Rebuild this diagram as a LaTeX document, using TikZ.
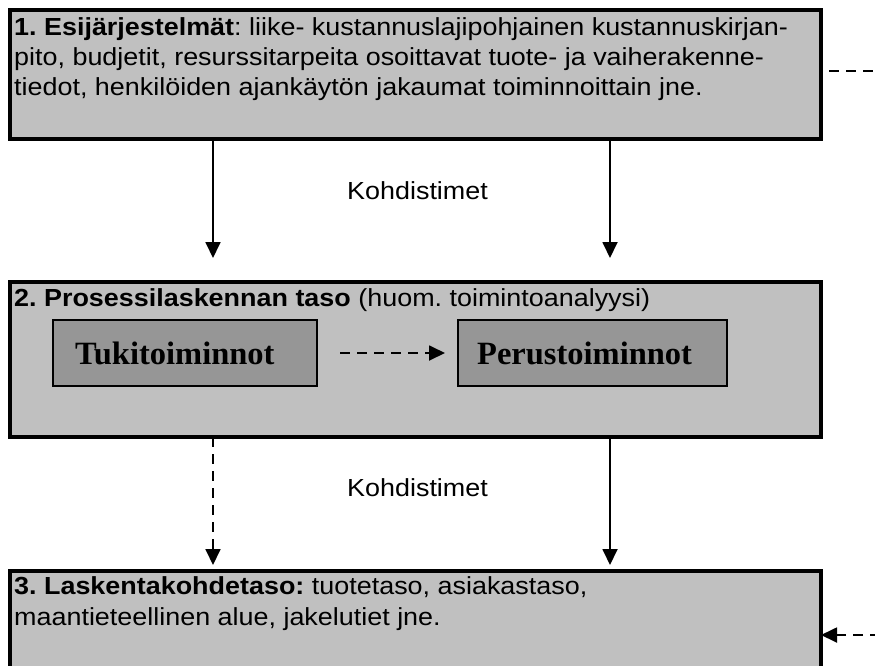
\documentclass[tikz,border=0pt]{standalone}
\usepackage{fontspec}
\setmainfont{Liberation Sans}[FakeStretch=1.09]
\newfontfamily\timesbf{Liberation Serif}
\usetikzlibrary{arrows.meta}
\definecolor{boxgray}{RGB}{192,192,192}
\definecolor{innergray}{RGB}{150,150,150}
\frenchspacing
\begin{document}
\begin{tikzpicture}[x=1pt,y=-1pt,
  bigbox/.style={draw=black,line width=3.5pt,fill=boxgray,minimum width=811pt,inner sep=0pt,outer sep=0pt},
  smallbox/.style={draw=black,line width=1.3pt,fill=innergray,minimum height=66pt,inner sep=0pt,outer sep=0pt},
  txt/.style={anchor=base west,inner sep=0pt,font=\fontsize{24.7}{30}\selectfont},
  arr/.style={line width=1.8pt,-{Triangle[length=16pt,width=15pt]}},
  darr/.style={arr,dash pattern=on 10pt off 7pt},
  dline/.style={line width=1.8pt,dash pattern=on 10pt off 7pt}]
\useasboundingbox (0,0) rectangle (875,665);
\clip (0,0) rectangle (875,665);
% boxes
\node[bigbox,minimum height=129pt] (b1) at (415.5,74.5) {};
\node[bigbox,minimum height=155pt] (b2) at (415.5,359.5) {};
\node[bigbox,minimum height=110pt] (b3) at (415.5,626) {};
\node[smallbox,minimum width=264pt] (tuki) at (185,353) {};
\node[smallbox,minimum width=269pt] (perus) at (592.5,353) {};
% texts
\node[txt] (t1a) at (14,35) {\textbf{1. Esijärjestelmät}: liike- kustannuslajipohjainen kustannuskirjan-};
\node[txt] (t1b) at (14,65) {pito, budjetit, resurssitarpeita osoittavat tuote- ja vaiherakenne-};
\node[txt] (t1c) at (14,95) {tiedot, henkilöiden ajankäytön jakaumat toiminnoittain jne.};
\node[txt] (t2) at (14,306) {\textbf{2. Prosessilaskennan taso} (huom. toimintoanalyysi)};
\node[txt] (t3a) at (14,594) {\textbf{3. Laskentakohdetaso:} tuotetaso, asiakastaso,};
\node[txt] (t3b) at (14,625) {maantieteellinen alue, jakelutiet jne.};
\node[anchor=base west,inner sep=0pt,font=\timesbf\bfseries\fontsize{32.5}{36}\selectfont] (tt) at (75,364) {Tukitoiminnot};
\node[anchor=base west,inner sep=0pt,font=\timesbf\bfseries\fontsize{32.5}{36}\selectfont] (pt) at (477,364) {Perustoiminnot};
\node[txt] (k1) at (347,199) {Kohdistimet};
\node[txt] (k2) at (347,496) {Kohdistimet};
% connectors
\coordinate (xa) at (213,0);
\coordinate (xb) at (610,0);
\coordinate (rt) at (880,71);
\coordinate (rb) at (880,635);
\draw[arr,shorten >=24pt] (b1.south -| xa) -- (b2.north -| xa);
\draw[arr,shorten >=24pt] (b1.south -| xb) -- (b2.north -| xb);
\draw[darr,shorten >=6pt] (b2.south -| xa) -- (b3.north -| xa);
\draw[arr,shorten >=6pt] (b2.south -| xb) -- (b3.north -| xb);
\draw[darr,shorten <=23pt,shorten >=13pt] (tuki.east) -- (perus.west);
\draw[dline,shorten <=8pt] (b1.east |- rt) -- (rt);
\draw[darr] (rb) -- (b3.east |- rb);
\end{tikzpicture}
\end{document}
